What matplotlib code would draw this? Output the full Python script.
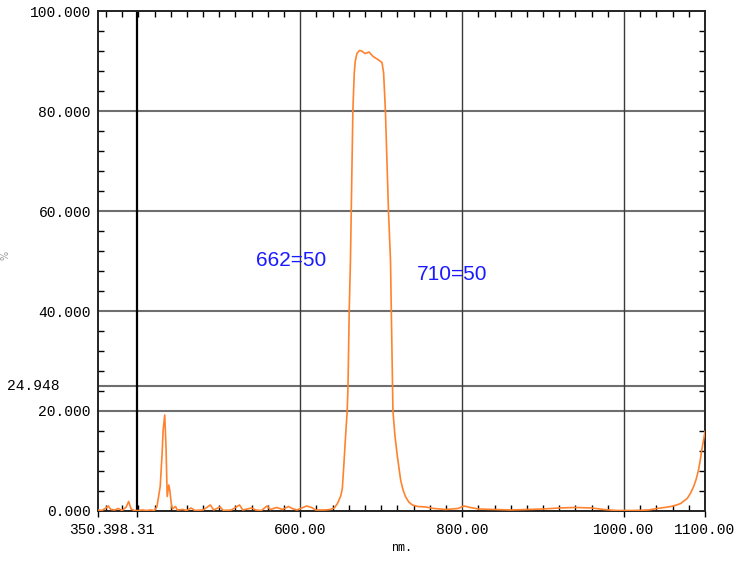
import numpy as np
import matplotlib
matplotlib.use('Agg')
import matplotlib.pyplot as plt
from matplotlib.ticker import MultipleLocator
from matplotlib.transforms import ScaledTranslation

# transmission curve (nm, %T)
wavelength = [350, 355, 360, 363, 366, 371, 375, 380, 385, 388, 391, 395, 400, 405, 410,
              415, 420, 423, 427, 429.4, 430.6, 432.6, 434.3, 435.6, 437.6, 438.8, 440.6,
              442, 446, 448, 455, 460, 465, 470, 480, 489, 493, 501, 505, 515, 525, 529,
              540, 545, 552, 559, 563, 571, 578, 585.6, 590, 596, 602, 608, 614, 619, 630,
              637, 642, 646, 650, 652, 654, 656, 658, 659, 660.5, 662, 663.5, 665, 666.7,
              668, 670, 673, 676, 680, 685, 690, 696, 701, 703, 705.2, 709, 711.5, 712.5,
              713.5, 714.5, 717, 720, 724, 727, 730, 734, 738.5, 745, 755, 765, 780, 795,
              802, 810, 820, 840, 860, 880, 900, 920, 940, 960, 975, 990, 1010, 1030, 1041,
              1050, 1058, 1065, 1070, 1078, 1082, 1086, 1089, 1092, 1094, 1096, 1098, 1100]
transmission = [0.2, 0.1, 0.6, 1.0, 0.3, 0.2, 0.5, 0.1, 0.8, 1.9, 0.4, 0.1, 0.1, 0.2, 0.1,
                0.2, 0.1, 0.9, 4.9, 11.6, 16.2, 19.2, 12.2, 2.9, 5.2, 4.2, 1.6,
                0.4, 0.9, 0.2, 0.3, 0.1, 0.6, 0.1, 0.2, 1.2, 0.2, 0.8, 0.1, 0.2, 1.2, 0.2,
                0.6, 0.2, 0.1, 1.0, 0.3, 0.7, 0.3, 0.9, 0.5, 0.2, 0.6, 1.0, 0.7, 0.2, 0.2,
                0.3, 0.6, 1.5, 3.0, 4.5, 9.6, 15, 20, 25, 40, 50, 65, 80, 87.6,
                90, 91.5, 92.1, 92.0, 91.5, 91.8, 90.9, 90.3, 89.7, 87.6, 80, 60, 50, 40,
                30, 20, 15, 10.9, 6.2, 4.2, 2.9, 1.8, 1.2, 0.9, 0.8, 0.5, 0.3, 0.5,
                1.0, 0.7, 0.4, 0.3, 0.2, 0.3, 0.4, 0.6, 0.7, 0.6, 0.3, 0.1, 0.1, 0.2, 0.5,
                0.7, 0.9, 1.2, 1.5, 2.5, 3.5, 4.9, 6.3, 8.2, 10, 12.2, 14, 15.9]

x_ticks = [350, 398.31, 600, 800, 1000, 1100]
x_labels = ['350.', '398.31', '600.00', '800.00', '1000.00', '1100.00']
y_ticks = [0, 20, 40, 60, 80, 100]
y_labels = ['0.000', '20.000', '40.000', '60.000', '80.000', '100.000']
cursor_x = 398.31
cursor_y = 24.948
notes = [('662=50', 589, 50.2), ('710=50', 788, 47.4)]

mono = 'Liberation Mono'

fig = plt.figure(figsize=(7.5, 5.63), dpi=100)
ax = fig.add_axes([0.1305, 0.0924, 0.8095, 0.888])

# grid
for v in [20, 40, 60, 80, cursor_y]:
    ax.axhline(v, color='#6e6e6e', lw=1.5, zorder=1)
for v in [600, 800, 1000]:
    ax.axvline(v, color='#3a3a3a', lw=1.0, zorder=1)
ax.axvline(cursor_x, color='black', lw=1.6, zorder=2)

ax.plot(wavelength, transmission, color='#ff822e', lw=1.2, zorder=3)

ax.set_xlim(350, 1100)
ax.set_ylim(0, 100)

ax.set_xticks(x_ticks)
ax.set_xticklabels(x_labels, fontfamily=mono, fontsize=10.5)
ax.set_yticks(y_ticks)
ax.set_yticklabels(y_labels, fontfamily=mono, fontsize=10.5)
ax.xaxis.set_minor_locator(MultipleLocator(20))
ax.yaxis.set_minor_locator(MultipleLocator(4))
ax.tick_params(axis='x', which='major', direction='out', length=4, width=1, pad=5)
ax.tick_params(axis='y', which='major', length=0, pad=5)
ax.tick_params(which='minor', direction='in', length=4, width=1,
               top=True, right=True)

# the two left labels sit shifted left in the original
offs = [-11 / 100, -9 / 100]
for lab, dx in zip(ax.get_xticklabels()[:2], offs):
    lab.set_transform(lab.get_transform() + ScaledTranslation(dx, 0, fig.dpi_scale_trans))

for s in ax.spines.values():
    s.set_color('#222222')
    s.set_linewidth(1.4)

ax.set_xlabel('nm.', fontfamily=mono, fontsize=8.5, labelpad=3)
fig.text(0.007, 0.547, '%', rotation=90, ha='center', va='center', fontsize=7, color='#999999')
fig.text(7 / 750, 1 - 386 / 563, '24.948', fontfamily=mono, fontsize=10.5,
         ha='left', va='center')

for txt, x, y in notes:
    ax.text(x, y, txt, color='#1a1aff', fontsize=15, fontfamily='Liberation Sans',
            ha='center', va='center', zorder=4)

fig.savefig('out.png', dpi=100)
